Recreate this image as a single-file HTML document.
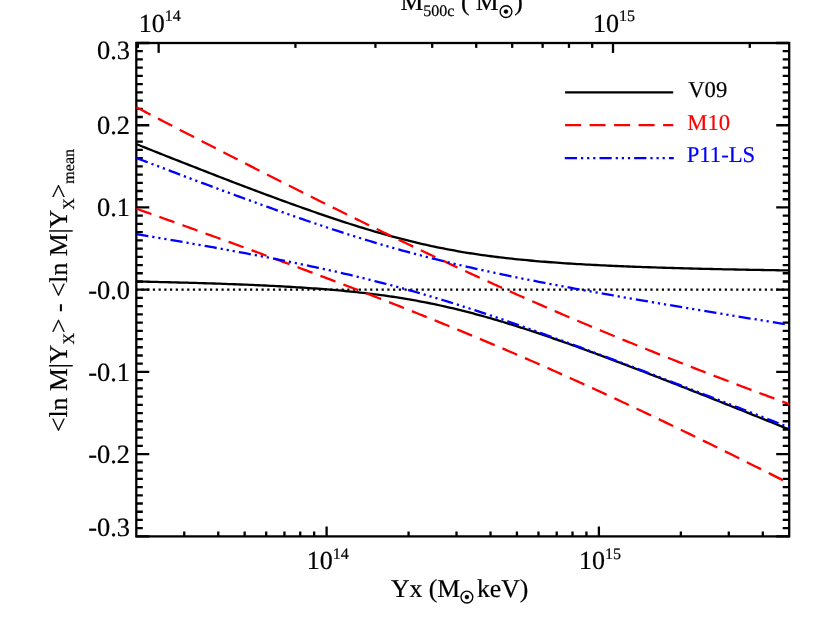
<!DOCTYPE html>
<html><head><meta charset="utf-8"><title>chart</title>
<style>html,body{margin:0;padding:0;background:#fff;}body{width:830px;height:623px;overflow:hidden;font-family:"Liberation Serif",serif;}</style>
</head><body>
<svg width="830" height="623" viewBox="0 0 830 623" style="display:block;will-change:transform">
<rect x="0" y="0" width="830" height="623" fill="#ffffff"/>
<defs><clipPath id="pc"><rect x="136.30" y="43.00" width="652.90" height="493.40"/></clipPath></defs>
<g stroke="#000" stroke-width="2.30" fill="none" stroke-linecap="butt">
<rect x="136.30" y="43.00" width="652.90" height="493.40" stroke-linejoin="miter"/>
<path d="M136.30 536.40 h13.00 M789.20 536.40 h-13.00"/>
<path d="M136.30 528.18 h6.50 M789.20 528.18 h-6.50"/>
<path d="M136.30 519.95 h6.50 M789.20 519.95 h-6.50"/>
<path d="M136.30 511.73 h6.50 M789.20 511.73 h-6.50"/>
<path d="M136.30 503.51 h6.50 M789.20 503.51 h-6.50"/>
<path d="M136.30 495.28 h6.50 M789.20 495.28 h-6.50"/>
<path d="M136.30 487.06 h6.50 M789.20 487.06 h-6.50"/>
<path d="M136.30 478.84 h6.50 M789.20 478.84 h-6.50"/>
<path d="M136.30 470.61 h6.50 M789.20 470.61 h-6.50"/>
<path d="M136.30 462.39 h6.50 M789.20 462.39 h-6.50"/>
<path d="M136.30 454.17 h13.00 M789.20 454.17 h-13.00"/>
<path d="M136.30 445.94 h6.50 M789.20 445.94 h-6.50"/>
<path d="M136.30 437.72 h6.50 M789.20 437.72 h-6.50"/>
<path d="M136.30 429.50 h6.50 M789.20 429.50 h-6.50"/>
<path d="M136.30 421.27 h6.50 M789.20 421.27 h-6.50"/>
<path d="M136.30 413.05 h6.50 M789.20 413.05 h-6.50"/>
<path d="M136.30 404.83 h6.50 M789.20 404.83 h-6.50"/>
<path d="M136.30 396.60 h6.50 M789.20 396.60 h-6.50"/>
<path d="M136.30 388.38 h6.50 M789.20 388.38 h-6.50"/>
<path d="M136.30 380.16 h6.50 M789.20 380.16 h-6.50"/>
<path d="M136.30 371.93 h13.00 M789.20 371.93 h-13.00"/>
<path d="M136.30 363.71 h6.50 M789.20 363.71 h-6.50"/>
<path d="M136.30 355.49 h6.50 M789.20 355.49 h-6.50"/>
<path d="M136.30 347.26 h6.50 M789.20 347.26 h-6.50"/>
<path d="M136.30 339.04 h6.50 M789.20 339.04 h-6.50"/>
<path d="M136.30 330.82 h6.50 M789.20 330.82 h-6.50"/>
<path d="M136.30 322.59 h6.50 M789.20 322.59 h-6.50"/>
<path d="M136.30 314.37 h6.50 M789.20 314.37 h-6.50"/>
<path d="M136.30 306.15 h6.50 M789.20 306.15 h-6.50"/>
<path d="M136.30 297.92 h6.50 M789.20 297.92 h-6.50"/>
<path d="M136.30 289.70 h13.00 M789.20 289.70 h-13.00"/>
<path d="M136.30 281.48 h6.50 M789.20 281.48 h-6.50"/>
<path d="M136.30 273.25 h6.50 M789.20 273.25 h-6.50"/>
<path d="M136.30 265.03 h6.50 M789.20 265.03 h-6.50"/>
<path d="M136.30 256.81 h6.50 M789.20 256.81 h-6.50"/>
<path d="M136.30 248.58 h6.50 M789.20 248.58 h-6.50"/>
<path d="M136.30 240.36 h6.50 M789.20 240.36 h-6.50"/>
<path d="M136.30 232.14 h6.50 M789.20 232.14 h-6.50"/>
<path d="M136.30 223.91 h6.50 M789.20 223.91 h-6.50"/>
<path d="M136.30 215.69 h6.50 M789.20 215.69 h-6.50"/>
<path d="M136.30 207.47 h13.00 M789.20 207.47 h-13.00"/>
<path d="M136.30 199.24 h6.50 M789.20 199.24 h-6.50"/>
<path d="M136.30 191.02 h6.50 M789.20 191.02 h-6.50"/>
<path d="M136.30 182.80 h6.50 M789.20 182.80 h-6.50"/>
<path d="M136.30 174.57 h6.50 M789.20 174.57 h-6.50"/>
<path d="M136.30 166.35 h6.50 M789.20 166.35 h-6.50"/>
<path d="M136.30 158.13 h6.50 M789.20 158.13 h-6.50"/>
<path d="M136.30 149.90 h6.50 M789.20 149.90 h-6.50"/>
<path d="M136.30 141.68 h6.50 M789.20 141.68 h-6.50"/>
<path d="M136.30 133.46 h6.50 M789.20 133.46 h-6.50"/>
<path d="M136.30 125.23 h13.00 M789.20 125.23 h-13.00"/>
<path d="M136.30 117.01 h6.50 M789.20 117.01 h-6.50"/>
<path d="M136.30 108.79 h6.50 M789.20 108.79 h-6.50"/>
<path d="M136.30 100.56 h6.50 M789.20 100.56 h-6.50"/>
<path d="M136.30 92.34 h6.50 M789.20 92.34 h-6.50"/>
<path d="M136.30 84.12 h6.50 M789.20 84.12 h-6.50"/>
<path d="M136.30 75.89 h6.50 M789.20 75.89 h-6.50"/>
<path d="M136.30 67.67 h6.50 M789.20 67.67 h-6.50"/>
<path d="M136.30 59.45 h6.50 M789.20 59.45 h-6.50"/>
<path d="M136.30 51.22 h6.50 M789.20 51.22 h-6.50"/>
<path d="M136.30 43.00 h13.00 M789.20 43.00 h-13.00"/>
<path d="M184.25 536.40 v-4.90"/>
<path d="M218.26 536.40 v-4.90"/>
<path d="M244.65 536.40 v-4.90"/>
<path d="M266.21 536.40 v-4.90"/>
<path d="M284.44 536.40 v-4.90"/>
<path d="M300.23 536.40 v-4.90"/>
<path d="M314.15 536.40 v-4.90"/>
<path d="M326.61 536.40 v-9.90"/>
<path d="M408.58 536.40 v-4.90"/>
<path d="M456.52 536.40 v-4.90"/>
<path d="M490.54 536.40 v-4.90"/>
<path d="M516.92 536.40 v-4.90"/>
<path d="M538.48 536.40 v-4.90"/>
<path d="M556.71 536.40 v-4.90"/>
<path d="M572.50 536.40 v-4.90"/>
<path d="M586.43 536.40 v-4.90"/>
<path d="M598.89 536.40 v-9.90"/>
<path d="M680.85 536.40 v-4.90"/>
<path d="M728.80 536.40 v-4.90"/>
<path d="M762.81 536.40 v-4.90"/>
<path d="M137.86 43.00 v4.90"/>
<path d="M158.65 43.00 v9.90"/>
<path d="M295.42 43.00 v4.90"/>
<path d="M375.43 43.00 v4.90"/>
<path d="M432.20 43.00 v4.90"/>
<path d="M476.23 43.00 v4.90"/>
<path d="M512.20 43.00 v4.90"/>
<path d="M542.62 43.00 v4.90"/>
<path d="M568.97 43.00 v4.90"/>
<path d="M592.21 43.00 v4.90"/>
<path d="M613.00 43.00 v9.90"/>
<path d="M749.77 43.00 v4.90"/>
</g>
<g clip-path="url(#pc)" fill="none" stroke-width="2.30" stroke-linecap="butt" stroke-linejoin="round">
<path d="M135.70 289.70 L789.20 289.70" stroke="#000" stroke-dasharray="2.2 3.519"/>
<path d="M136.30 144.07 L139.28 145.27 L142.26 146.46 L145.24 147.65 L148.23 148.84 L151.21 150.03 L154.19 151.21 L157.17 152.40 L160.15 153.58 L163.13 154.77 L166.11 155.95 L169.09 157.13 L172.08 158.31 L175.06 159.49 L178.04 160.66 L181.02 161.84 L184.00 163.01 L186.98 164.18 L189.96 165.35 L192.94 166.52 L195.93 167.69 L198.91 168.86 L201.89 170.02 L204.87 171.18 L207.85 172.34 L210.83 173.50 L213.81 174.66 L216.79 175.81 L219.78 176.97 L222.76 178.12 L225.74 179.27 L228.72 180.41 L231.70 181.56 L234.68 182.70 L237.66 183.84 L240.64 184.97 L243.63 186.11 L246.61 187.24 L249.59 188.37 L252.57 189.49 L255.55 190.61 L258.53 191.73 L261.51 192.85 L264.49 193.96 L267.48 195.07 L270.46 196.18 L273.44 197.28 L276.42 198.38 L279.40 199.48 L282.38 200.57 L285.36 201.65 L288.35 202.74 L291.33 203.81 L294.31 204.89 L297.29 205.96 L300.27 207.02 L303.25 208.08 L306.23 209.14 L309.21 210.19 L312.20 211.23 L315.18 212.27 L318.16 213.30 L321.14 214.33 L324.12 215.35 L327.10 216.36 L330.08 217.37 L333.06 218.37 L336.05 219.36 L339.03 220.35 L342.01 221.33 L344.99 222.30 L347.97 223.26 L350.95 224.22 L353.93 225.16 L356.91 226.10 L359.90 227.03 L362.88 227.95 L365.86 228.86 L368.84 229.76 L371.82 230.65 L374.80 231.53 L377.78 232.40 L380.76 233.26 L383.75 234.11 L386.73 234.95 L389.71 235.77 L392.69 236.59 L395.67 237.39 L398.65 238.18 L401.63 238.96 L404.62 239.72 L407.60 240.48 L410.58 241.22 L413.56 241.94 L416.54 242.66 L419.52 243.36 L422.50 244.05 L425.48 244.72 L428.47 245.38 L431.45 246.03 L434.43 246.67 L437.41 247.29 L440.39 247.89 L443.37 248.49 L446.35 249.07 L449.33 249.64 L452.32 250.19 L455.30 250.73 L458.28 251.26 L461.26 251.77 L464.24 252.27 L467.22 252.76 L470.20 253.24 L473.18 253.71 L476.17 254.16 L479.15 254.60 L482.13 255.03 L485.11 255.44 L488.09 255.85 L491.07 256.25 L494.05 256.63 L497.03 257.00 L500.02 257.37 L503.00 257.72 L505.98 258.07 L508.96 258.40 L511.94 258.73 L514.92 259.04 L517.90 259.35 L520.88 259.65 L523.87 259.94 L526.85 260.23 L529.83 260.50 L532.81 260.77 L535.79 261.03 L538.77 261.28 L541.75 261.53 L544.74 261.77 L547.72 262.01 L550.70 262.23 L553.68 262.45 L556.66 262.67 L559.64 262.88 L562.62 263.08 L565.60 263.28 L568.59 263.48 L571.57 263.67 L574.55 263.85 L577.53 264.03 L580.51 264.21 L583.49 264.38 L586.47 264.54 L589.45 264.71 L592.44 264.86 L595.42 265.02 L598.40 265.17 L601.38 265.32 L604.36 265.46 L607.34 265.60 L610.32 265.74 L613.30 265.87 L616.29 266.00 L619.27 266.13 L622.25 266.26 L625.23 266.38 L628.21 266.50 L631.19 266.62 L634.17 266.73 L637.15 266.84 L640.14 266.95 L643.12 267.06 L646.10 267.16 L649.08 267.27 L652.06 267.37 L655.04 267.46 L658.02 267.56 L661.01 267.66 L663.99 267.75 L666.97 267.84 L669.95 267.93 L672.93 268.02 L675.91 268.10 L678.89 268.19 L681.87 268.27 L684.86 268.35 L687.84 268.43 L690.82 268.51 L693.80 268.58 L696.78 268.66 L699.76 268.73 L702.74 268.80 L705.72 268.87 L708.71 268.94 L711.69 269.01 L714.67 269.08 L717.65 269.15 L720.63 269.21 L723.61 269.28 L726.59 269.34 L729.57 269.40 L732.56 269.46 L735.54 269.52 L738.52 269.58 L741.50 269.64 L744.48 269.69 L747.46 269.75 L750.44 269.81 L753.42 269.86 L756.41 269.91 L759.39 269.97 L762.37 270.02 L765.35 270.07 L768.33 270.12 L771.31 270.17 L774.29 270.22 L777.27 270.27 L780.26 270.31 L783.24 270.36 L786.22 270.41 L789.20 270.45" stroke="#000"/>
<path d="M136.30 281.52 L139.28 281.58 L142.26 281.65 L145.24 281.71 L148.23 281.77 L151.21 281.84 L154.19 281.90 L157.17 281.97 L160.15 282.04 L163.13 282.11 L166.11 282.18 L169.09 282.25 L172.08 282.32 L175.06 282.40 L178.04 282.48 L181.02 282.55 L184.00 282.63 L186.98 282.71 L189.96 282.80 L192.94 282.88 L195.93 282.96 L198.91 283.05 L201.89 283.14 L204.87 283.23 L207.85 283.32 L210.83 283.42 L213.81 283.51 L216.79 283.61 L219.78 283.71 L222.76 283.81 L225.74 283.92 L228.72 284.03 L231.70 284.13 L234.68 284.25 L237.66 284.36 L240.64 284.48 L243.63 284.60 L246.61 284.72 L249.59 284.84 L252.57 284.97 L255.55 285.10 L258.53 285.23 L261.51 285.37 L264.49 285.51 L267.48 285.65 L270.46 285.80 L273.44 285.95 L276.42 286.10 L279.40 286.26 L282.38 286.42 L285.36 286.59 L288.35 286.76 L291.33 286.93 L294.31 287.11 L297.29 287.30 L300.27 287.48 L303.25 287.68 L306.23 287.88 L309.21 288.08 L312.20 288.29 L315.18 288.50 L318.16 288.72 L321.14 288.95 L324.12 289.18 L327.10 289.42 L330.08 289.67 L333.06 289.92 L336.05 290.18 L339.03 290.45 L342.01 290.72 L344.99 291.00 L347.97 291.29 L350.95 291.59 L353.93 291.90 L356.91 292.21 L359.90 292.54 L362.88 292.87 L365.86 293.21 L368.84 293.56 L371.82 293.93 L374.80 294.30 L377.78 294.68 L380.76 295.08 L383.75 295.48 L386.73 295.90 L389.71 296.32 L392.69 296.76 L395.67 297.21 L398.65 297.67 L401.63 298.15 L404.62 298.64 L407.60 299.13 L410.58 299.65 L413.56 300.17 L416.54 300.71 L419.52 301.26 L422.50 301.83 L425.48 302.41 L428.47 303.00 L431.45 303.60 L434.43 304.22 L437.41 304.85 L440.39 305.50 L443.37 306.16 L446.35 306.83 L449.33 307.52 L452.32 308.21 L455.30 308.93 L458.28 309.65 L461.26 310.39 L464.24 311.14 L467.22 311.91 L470.20 312.68 L473.18 313.47 L476.17 314.27 L479.15 315.08 L482.13 315.91 L485.11 316.74 L488.09 317.59 L491.07 318.45 L494.05 319.31 L497.03 320.19 L500.02 321.08 L503.00 321.98 L505.98 322.89 L508.96 323.81 L511.94 324.73 L514.92 325.67 L517.90 326.62 L520.88 327.57 L523.87 328.53 L526.85 329.50 L529.83 330.48 L532.81 331.46 L535.79 332.45 L538.77 333.45 L541.75 334.46 L544.74 335.47 L547.72 336.49 L550.70 337.52 L553.68 338.55 L556.66 339.59 L559.64 340.63 L562.62 341.68 L565.60 342.73 L568.59 343.79 L571.57 344.85 L574.55 345.92 L577.53 347.00 L580.51 348.07 L583.49 349.16 L586.47 350.24 L589.45 351.33 L592.44 352.43 L595.42 353.52 L598.40 354.63 L601.38 355.73 L604.36 356.84 L607.34 357.95 L610.32 359.07 L613.30 360.19 L616.29 361.31 L619.27 362.44 L622.25 363.56 L625.23 364.69 L628.21 365.83 L631.19 366.96 L634.17 368.10 L637.15 369.24 L640.14 370.39 L643.12 371.53 L646.10 372.68 L649.08 373.83 L652.06 374.98 L655.04 376.14 L658.02 377.29 L661.01 378.45 L663.99 379.61 L666.97 380.77 L669.95 381.94 L672.93 383.10 L675.91 384.27 L678.89 385.44 L681.87 386.61 L684.86 387.78 L687.84 388.96 L690.82 390.13 L693.80 391.31 L696.78 392.48 L699.76 393.66 L702.74 394.84 L705.72 396.03 L708.71 397.21 L711.69 398.39 L714.67 399.58 L717.65 400.77 L720.63 401.95 L723.61 403.14 L726.59 404.33 L729.57 405.52 L732.56 406.72 L735.54 407.91 L738.52 409.10 L741.50 410.30 L744.48 411.49 L747.46 412.69 L750.44 413.89 L753.42 415.09 L756.41 416.29 L759.39 417.49 L762.37 418.69 L765.35 419.89 L768.33 421.09 L771.31 422.29 L774.29 423.50 L777.27 424.70 L780.26 425.91 L783.24 427.11 L786.22 428.32 L789.20 429.53" stroke="#000"/>
<path d="M136.30 107.24 L139.28 108.79 L142.26 110.34 L145.24 111.89 L148.23 113.44 L151.21 114.99 L154.19 116.53 L157.17 118.08 L160.15 119.63 L163.13 121.17 L166.11 122.72 L169.09 124.26 L172.08 125.80 L175.06 127.35 L178.04 128.89 L181.02 130.43 L184.00 131.97 L186.98 133.51 L189.96 135.04 L192.94 136.58 L195.93 138.12 L198.91 139.65 L201.89 141.19 L204.87 142.72 L207.85 144.25 L210.83 145.79 L213.81 147.32 L216.79 148.85 L219.78 150.38 L222.76 151.91 L225.74 153.43 L228.72 154.96 L231.70 156.48 L234.68 158.01 L237.66 159.53 L240.64 161.05 L243.63 162.57 L246.61 164.09 L249.59 165.61 L252.57 167.13 L255.55 168.65 L258.53 170.16 L261.51 171.68 L264.49 173.19 L267.48 174.70 L270.46 176.21 L273.44 177.72 L276.42 179.23 L279.40 180.73 L282.38 182.24 L285.36 183.74 L288.35 185.25 L291.33 186.75 L294.31 188.25 L297.29 189.74 L300.27 191.24 L303.25 192.74 L306.23 194.23 L309.21 195.72 L312.20 197.21 L315.18 198.70 L318.16 200.19 L321.14 201.68 L324.12 203.16 L327.10 204.64 L330.08 206.13 L333.06 207.60 L336.05 209.08 L339.03 210.56 L342.01 212.03 L344.99 213.51 L347.97 214.98 L350.95 216.44 L353.93 217.91 L356.91 219.38 L359.90 220.84 L362.88 222.30 L365.86 223.76 L368.84 225.22 L371.82 226.67 L374.80 228.12 L377.78 229.57 L380.76 231.02 L383.75 232.47 L386.73 233.91 L389.71 235.36 L392.69 236.80 L395.67 238.23 L398.65 239.67 L401.63 241.10 L404.62 242.53 L407.60 243.96 L410.58 245.39 L413.56 246.81 L416.54 248.23 L419.52 249.65 L422.50 251.07 L425.48 252.48 L428.47 253.89 L431.45 255.30 L434.43 256.71 L437.41 258.11 L440.39 259.51 L443.37 260.91 L446.35 262.31 L449.33 263.70 L452.32 265.09 L455.30 266.48 L458.28 267.86 L461.26 269.24 L464.24 270.62 L467.22 272.00 L470.20 273.37 L473.18 274.74 L476.17 276.11 L479.15 277.47 L482.13 278.83 L485.11 280.19 L488.09 281.55 L491.07 282.90 L494.05 284.25 L497.03 285.60 L500.02 286.94 L503.00 288.28 L505.98 289.62 L508.96 290.95 L511.94 292.28 L514.92 293.61 L517.90 294.94 L520.88 296.26 L523.87 297.58 L526.85 298.89 L529.83 300.20 L532.81 301.51 L535.79 302.82 L538.77 304.12 L541.75 305.42 L544.74 306.72 L547.72 308.02 L550.70 309.31 L553.68 310.60 L556.66 311.88 L559.64 313.16 L562.62 314.44 L565.60 315.72 L568.59 316.99 L571.57 318.26 L574.55 319.52 L577.53 320.79 L580.51 322.05 L583.49 323.31 L586.47 324.56 L589.45 325.81 L592.44 327.06 L595.42 328.31 L598.40 329.55 L601.38 330.79 L604.36 332.03 L607.34 333.26 L610.32 334.49 L613.30 335.72 L616.29 336.94 L619.27 338.17 L622.25 339.39 L625.23 340.60 L628.21 341.82 L631.19 343.03 L634.17 344.24 L637.15 345.45 L640.14 346.65 L643.12 347.85 L646.10 349.05 L649.08 350.25 L652.06 351.44 L655.04 352.63 L658.02 353.82 L661.01 355.01 L663.99 356.19 L666.97 357.37 L669.95 358.55 L672.93 359.73 L675.91 360.90 L678.89 362.07 L681.87 363.24 L684.86 364.41 L687.84 365.58 L690.82 366.74 L693.80 367.90 L696.78 369.06 L699.76 370.22 L702.74 371.37 L705.72 372.53 L708.71 373.68 L711.69 374.83 L714.67 375.97 L717.65 377.12 L720.63 378.26 L723.61 379.40 L726.59 380.54 L729.57 381.68 L732.56 382.81 L735.54 383.95 L738.52 385.08 L741.50 386.21 L744.48 387.34 L747.46 388.47 L750.44 389.59 L753.42 390.72 L756.41 391.84 L759.39 392.96 L762.37 394.08 L765.35 395.19 L768.33 396.31 L771.31 397.43 L774.29 398.54 L777.27 399.65 L780.26 400.76 L783.24 401.87 L786.22 402.98 L789.20 404.08" stroke="#ff0000" stroke-dasharray="16.0 8.5"/>
<path d="M136.30 208.69 L139.28 209.75 L142.26 210.81 L145.24 211.87 L148.23 212.93 L151.21 213.99 L154.19 215.05 L157.17 216.11 L160.15 217.18 L163.13 218.24 L166.11 219.31 L169.09 220.37 L172.08 221.44 L175.06 222.51 L178.04 223.58 L181.02 224.65 L184.00 225.72 L186.98 226.79 L189.96 227.86 L192.94 228.93 L195.93 230.00 L198.91 231.08 L201.89 232.15 L204.87 233.23 L207.85 234.31 L210.83 235.38 L213.81 236.46 L216.79 237.54 L219.78 238.62 L222.76 239.70 L225.74 240.79 L228.72 241.87 L231.70 242.95 L234.68 244.04 L237.66 245.13 L240.64 246.21 L243.63 247.30 L246.61 248.39 L249.59 249.48 L252.57 250.58 L255.55 251.67 L258.53 252.76 L261.51 253.86 L264.49 254.96 L267.48 256.06 L270.46 257.15 L273.44 258.26 L276.42 259.36 L279.40 260.46 L282.38 261.56 L285.36 262.67 L288.35 263.78 L291.33 264.89 L294.31 266.00 L297.29 267.11 L300.27 268.22 L303.25 269.34 L306.23 270.45 L309.21 271.57 L312.20 272.69 L315.18 273.81 L318.16 274.93 L321.14 276.05 L324.12 277.18 L327.10 278.31 L330.08 279.43 L333.06 280.56 L336.05 281.70 L339.03 282.83 L342.01 283.97 L344.99 285.10 L347.97 286.24 L350.95 287.38 L353.93 288.53 L356.91 289.67 L359.90 290.82 L362.88 291.97 L365.86 293.12 L368.84 294.27 L371.82 295.43 L374.80 296.58 L377.78 297.74 L380.76 298.90 L383.75 300.07 L386.73 301.23 L389.71 302.40 L392.69 303.57 L395.67 304.74 L398.65 305.91 L401.63 307.09 L404.62 308.27 L407.60 309.45 L410.58 310.63 L413.56 311.82 L416.54 313.01 L419.52 314.20 L422.50 315.39 L425.48 316.59 L428.47 317.79 L431.45 318.99 L434.43 320.19 L437.41 321.40 L440.39 322.61 L443.37 323.82 L446.35 325.03 L449.33 326.25 L452.32 327.47 L455.30 328.69 L458.28 329.92 L461.26 331.15 L464.24 332.38 L467.22 333.61 L470.20 334.85 L473.18 336.09 L476.17 337.33 L479.15 338.58 L482.13 339.82 L485.11 341.08 L488.09 342.33 L491.07 343.59 L494.05 344.85 L497.03 346.11 L500.02 347.38 L503.00 348.65 L505.98 349.92 L508.96 351.19 L511.94 352.47 L514.92 353.75 L517.90 355.04 L520.88 356.33 L523.87 357.62 L526.85 358.91 L529.83 360.21 L532.81 361.51 L535.79 362.81 L538.77 364.12 L541.75 365.43 L544.74 366.74 L547.72 368.05 L550.70 369.37 L553.68 370.70 L556.66 372.02 L559.64 373.35 L562.62 374.68 L565.60 376.01 L568.59 377.35 L571.57 378.69 L574.55 380.03 L577.53 381.38 L580.51 382.73 L583.49 384.08 L586.47 385.44 L589.45 386.80 L592.44 388.16 L595.42 389.52 L598.40 390.89 L601.38 392.26 L604.36 393.63 L607.34 395.01 L610.32 396.38 L613.30 397.77 L616.29 399.15 L619.27 400.54 L622.25 401.93 L625.23 403.32 L628.21 404.71 L631.19 406.11 L634.17 407.51 L637.15 408.92 L640.14 410.32 L643.12 411.73 L646.10 413.14 L649.08 414.56 L652.06 415.97 L655.04 417.39 L658.02 418.81 L661.01 420.23 L663.99 421.66 L666.97 423.09 L669.95 424.52 L672.93 425.95 L675.91 427.39 L678.89 428.83 L681.87 430.26 L684.86 431.71 L687.84 433.15 L690.82 434.60 L693.80 436.05 L696.78 437.50 L699.76 438.95 L702.74 440.40 L705.72 441.86 L708.71 443.32 L711.69 444.78 L714.67 446.24 L717.65 447.71 L720.63 449.18 L723.61 450.64 L726.59 452.11 L729.57 453.59 L732.56 455.06 L735.54 456.54 L738.52 458.01 L741.50 459.49 L744.48 460.97 L747.46 462.46 L750.44 463.94 L753.42 465.43 L756.41 466.91 L759.39 468.40 L762.37 469.89 L765.35 471.39 L768.33 472.88 L771.31 474.38 L774.29 475.87 L777.27 477.37 L780.26 478.87 L783.24 480.37 L786.22 481.87 L789.20 483.38" stroke="#ff0000" stroke-dasharray="16.0 8.5"/>
<path d="M136.30 157.94 L139.28 159.08 L142.26 160.22 L145.24 161.36 L148.23 162.50 L151.21 163.64 L154.19 164.77 L157.17 165.91 L160.15 167.05 L163.13 168.18 L166.11 169.31 L169.09 170.44 L172.08 171.58 L175.06 172.70 L178.04 173.83 L181.02 174.96 L184.00 176.09 L186.98 177.21 L189.96 178.33 L192.94 179.45 L195.93 180.57 L198.91 181.69 L201.89 182.81 L204.87 183.92 L207.85 185.04 L210.83 186.15 L213.81 187.26 L216.79 188.37 L219.78 189.48 L222.76 190.58 L225.74 191.68 L228.72 192.78 L231.70 193.88 L234.68 194.98 L237.66 196.07 L240.64 197.17 L243.63 198.26 L246.61 199.34 L249.59 200.43 L252.57 201.51 L255.55 202.59 L258.53 203.67 L261.51 204.74 L264.49 205.82 L267.48 206.88 L270.46 207.95 L273.44 209.01 L276.42 210.07 L279.40 211.13 L282.38 212.18 L285.36 213.23 L288.35 214.28 L291.33 215.32 L294.31 216.36 L297.29 217.39 L300.27 218.42 L303.25 219.45 L306.23 220.47 L309.21 221.49 L312.20 222.50 L315.18 223.51 L318.16 224.52 L321.14 225.52 L324.12 226.51 L327.10 227.50 L330.08 228.49 L333.06 229.47 L336.05 230.44 L339.03 231.41 L342.01 232.37 L344.99 233.33 L347.97 234.28 L350.95 235.22 L353.93 236.16 L356.91 237.10 L359.90 238.02 L362.88 238.94 L365.86 239.86 L368.84 240.76 L371.82 241.66 L374.80 242.56 L377.78 243.44 L380.76 244.32 L383.75 245.20 L386.73 246.06 L389.71 246.92 L392.69 247.77 L395.67 248.62 L398.65 249.45 L401.63 250.28 L404.62 251.11 L407.60 251.92 L410.58 252.73 L413.56 253.53 L416.54 254.33 L419.52 255.12 L422.50 255.90 L425.48 256.67 L428.47 257.44 L431.45 258.19 L434.43 258.95 L437.41 259.69 L440.39 260.43 L443.37 261.16 L446.35 261.89 L449.33 262.61 L452.32 263.32 L455.30 264.03 L458.28 264.73 L461.26 265.42 L464.24 266.11 L467.22 266.80 L470.20 267.47 L473.18 268.15 L476.17 268.81 L479.15 269.47 L482.13 270.13 L485.11 270.78 L488.09 271.43 L491.07 272.07 L494.05 272.70 L497.03 273.34 L500.02 273.96 L503.00 274.59 L505.98 275.21 L508.96 275.82 L511.94 276.43 L514.92 277.04 L517.90 277.64 L520.88 278.24 L523.87 278.84 L526.85 279.43 L529.83 280.02 L532.81 280.61 L535.79 281.19 L538.77 281.77 L541.75 282.34 L544.74 282.92 L547.72 283.49 L550.70 284.06 L553.68 284.62 L556.66 285.18 L559.64 285.74 L562.62 286.30 L565.60 286.86 L568.59 287.41 L571.57 287.96 L574.55 288.51 L577.53 289.05 L580.51 289.60 L583.49 290.14 L586.47 290.68 L589.45 291.22 L592.44 291.76 L595.42 292.29 L598.40 292.82 L601.38 293.36 L604.36 293.89 L607.34 294.41 L610.32 294.94 L613.30 295.46 L616.29 295.99 L619.27 296.51 L622.25 297.03 L625.23 297.55 L628.21 298.07 L631.19 298.59 L634.17 299.10 L637.15 299.62 L640.14 300.13 L643.12 300.64 L646.10 301.15 L649.08 301.66 L652.06 302.17 L655.04 302.68 L658.02 303.19 L661.01 303.69 L663.99 304.20 L666.97 304.70 L669.95 305.20 L672.93 305.70 L675.91 306.21 L678.89 306.71 L681.87 307.21 L684.86 307.70 L687.84 308.20 L690.82 308.70 L693.80 309.20 L696.78 309.69 L699.76 310.19 L702.74 310.68 L705.72 311.18 L708.71 311.67 L711.69 312.16 L714.67 312.65 L717.65 313.14 L720.63 313.63 L723.61 314.12 L726.59 314.61 L729.57 315.10 L732.56 315.59 L735.54 316.08 L738.52 316.57 L741.50 317.05 L744.48 317.54 L747.46 318.02 L750.44 318.51 L753.42 318.99 L756.41 319.48 L759.39 319.96 L762.37 320.45 L765.35 320.93 L768.33 321.41 L771.31 321.89 L774.29 322.37 L777.27 322.86 L780.26 323.34 L783.24 323.82 L786.22 324.30 L789.20 324.78" stroke="#0000ff" stroke-dasharray="12.2 4 2.2 3.9 2.2 3.9 2.2 4.1"/>
<path d="M136.30 234.05 L139.28 234.55 L142.26 235.05 L145.24 235.56 L148.23 236.06 L151.21 236.57 L154.19 237.08 L157.17 237.58 L160.15 238.09 L163.13 238.61 L166.11 239.12 L169.09 239.63 L172.08 240.14 L175.06 240.66 L178.04 241.18 L181.02 241.69 L184.00 242.21 L186.98 242.73 L189.96 243.26 L192.94 243.78 L195.93 244.30 L198.91 244.83 L201.89 245.36 L204.87 245.89 L207.85 246.42 L210.83 246.95 L213.81 247.49 L216.79 248.02 L219.78 248.56 L222.76 249.10 L225.74 249.64 L228.72 250.19 L231.70 250.73 L234.68 251.28 L237.66 251.83 L240.64 252.38 L243.63 252.94 L246.61 253.49 L249.59 254.05 L252.57 254.62 L255.55 255.18 L258.53 255.75 L261.51 256.32 L264.49 256.89 L267.48 257.47 L270.46 258.05 L273.44 258.63 L276.42 259.21 L279.40 259.80 L282.38 260.39 L285.36 260.99 L288.35 261.59 L291.33 262.19 L294.31 262.80 L297.29 263.41 L300.27 264.02 L303.25 264.64 L306.23 265.26 L309.21 265.89 L312.20 266.52 L315.18 267.15 L318.16 267.79 L321.14 268.44 L324.12 269.09 L327.10 269.74 L330.08 270.41 L333.06 271.07 L336.05 271.74 L339.03 272.42 L342.01 273.10 L344.99 273.79 L347.97 274.48 L350.95 275.18 L353.93 275.89 L356.91 276.60 L359.90 277.32 L362.88 278.04 L365.86 278.77 L368.84 279.51 L371.82 280.26 L374.80 281.01 L377.78 281.76 L380.76 282.53 L383.75 283.30 L386.73 284.08 L389.71 284.87 L392.69 285.66 L395.67 286.46 L398.65 287.27 L401.63 288.08 L404.62 288.90 L407.60 289.73 L410.58 290.57 L413.56 291.41 L416.54 292.26 L419.52 293.12 L422.50 293.98 L425.48 294.85 L428.47 295.73 L431.45 296.62 L434.43 297.51 L437.41 298.41 L440.39 299.32 L443.37 300.23 L446.35 301.15 L449.33 302.07 L452.32 303.00 L455.30 303.94 L458.28 304.89 L461.26 305.84 L464.24 306.79 L467.22 307.75 L470.20 308.72 L473.18 309.69 L476.17 310.67 L479.15 311.66 L482.13 312.64 L485.11 313.64 L488.09 314.64 L491.07 315.64 L494.05 316.65 L497.03 317.66 L500.02 318.68 L503.00 319.70 L505.98 320.73 L508.96 321.76 L511.94 322.79 L514.92 323.83 L517.90 324.87 L520.88 325.91 L523.87 326.96 L526.85 328.01 L529.83 329.07 L532.81 330.13 L535.79 331.19 L538.77 332.26 L541.75 333.33 L544.74 334.40 L547.72 335.47 L550.70 336.55 L553.68 337.63 L556.66 338.71 L559.64 339.79 L562.62 340.88 L565.60 341.97 L568.59 343.06 L571.57 344.16 L574.55 345.25 L577.53 346.35 L580.51 347.45 L583.49 348.55 L586.47 349.66 L589.45 350.77 L592.44 351.87 L595.42 352.98 L598.40 354.10 L601.38 355.21 L604.36 356.32 L607.34 357.44 L610.32 358.56 L613.30 359.68 L616.29 360.80 L619.27 361.92 L622.25 363.05 L625.23 364.17 L628.21 365.30 L631.19 366.43 L634.17 367.56 L637.15 368.69 L640.14 369.82 L643.12 370.95 L646.10 372.08 L649.08 373.22 L652.06 374.35 L655.04 375.49 L658.02 376.63 L661.01 377.77 L663.99 378.91 L666.97 380.05 L669.95 381.19 L672.93 382.33 L675.91 383.48 L678.89 384.62 L681.87 385.77 L684.86 386.91 L687.84 388.06 L690.82 389.21 L693.80 390.36 L696.78 391.50 L699.76 392.65 L702.74 393.80 L705.72 394.96 L708.71 396.11 L711.69 397.26 L714.67 398.41 L717.65 399.57 L720.63 400.72 L723.61 401.88 L726.59 403.03 L729.57 404.19 L732.56 405.34 L735.54 406.50 L738.52 407.66 L741.50 408.82 L744.48 409.97 L747.46 411.13 L750.44 412.29 L753.42 413.45 L756.41 414.61 L759.39 415.77 L762.37 416.94 L765.35 418.10 L768.33 419.26 L771.31 420.42 L774.29 421.59 L777.27 422.75 L780.26 423.91 L783.24 425.08 L786.22 426.24 L789.20 427.41" stroke="#0000ff" stroke-dasharray="12.2 4 2.2 3.9 2.2 3.9 2.2 4.1"/>
</g>
<g font-family='"Liberation Serif", serif' font-size="26.40" fill="#000" stroke="#000" stroke-width="0.22" stroke-linejoin="round" style="text-rendering:geometricPrecision">
<text x="130.0" y="58.90" text-anchor="end">0.3</text>
<text x="130.0" y="134.23" text-anchor="end">0.2</text>
<text x="130.0" y="216.47" text-anchor="end">0.1</text>
<text x="130.0" y="298.70" text-anchor="end">-0.0</text>
<text x="130.0" y="380.93" text-anchor="end">-0.1</text>
<text x="130.0" y="463.17" text-anchor="end">-0.2</text>
<text x="130.0" y="536.40" text-anchor="end">-0.3</text>
<text x="306.71" y="569.30" font-size="26.00">10<tspan font-size="16.00" dy="-10.8">14</tspan></text>
<text x="578.99" y="569.30" font-size="26.00">10<tspan font-size="16.00" dy="-10.8">15</tspan></text>
<text x="138.75" y="31.80" font-size="26.00">10<tspan font-size="16.00" dy="-10.8">14</tspan></text>
<text x="593.10" y="31.80" font-size="26.00">10<tspan font-size="16.00" dy="-10.8">15</tspan></text>
<text x="390.9" y="596.60" font-size="25.70">Yx (M</text>
<text x="477.0" y="596.60" font-size="25.70">keV)</text>
<circle cx="466.90" cy="597.10" r="5.9" fill="none" stroke="#000" stroke-width="1.35"/>
<circle cx="466.90" cy="597.10" r="2.1" fill="#000"/>
<text x="400.5" y="9.60" font-size="25.70">M<tspan font-size="16.00" dy="6.8">500c</tspan><tspan dy="-6.8"> ( M</tspan></text>
<circle cx="506.00" cy="11.60" r="5.9" fill="none" stroke="#000" stroke-width="1.35"/>
<circle cx="506.00" cy="11.60" r="2.1" fill="#000"/>
<text x="514.2" y="9.60" font-size="25.70">)</text>
<g transform="translate(67,432) rotate(-90)"><text x="0" y="0" font-size="25.70">&lt;ln M|Y<tspan font-size="16.00" dy="7">X</tspan><tspan dy="-7">&gt; - &lt;ln M|Y</tspan><tspan font-size="16.00" dy="7">X</tspan><tspan dy="-7">&gt;</tspan><tspan font-size="16.00" dy="7">mean</tspan></text></g>
</g>
<g fill="none" stroke-width="2.30">
<path d="M565.1 92.3 H673.2" stroke="#000"/>
<path d="M565.1 125.1 H673.2" stroke="#ff0000" stroke-dasharray="16.0 8.5"/>
<path d="M564.8 158.1 H673.8" stroke="#0000ff" stroke-dasharray="12.2 4 2.2 3.9 2.2 3.9 2.2 4.1"/>
</g>
<g font-family='"Liberation Serif", serif' font-size="22.70" style="text-rendering:geometricPrecision">
<text x="688.2" y="96.6" fill="#000" stroke="#000" stroke-width="0.2">V09</text>
<text x="687.3" y="129.8" fill="#ff0000" stroke="#ff0000" stroke-width="0.2">M10</text>
<text x="686.7" y="162.4" fill="#0000ff" stroke="#0000ff" stroke-width="0.2">P11-LS</text>
</g>
</svg>
</body></html>
